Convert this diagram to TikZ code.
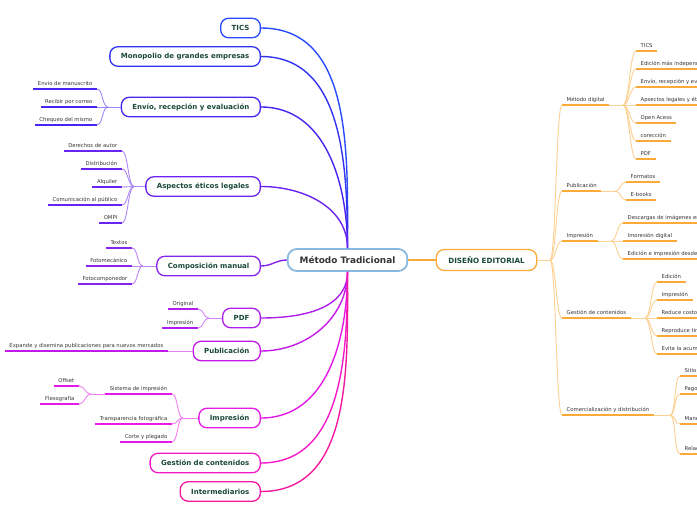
\documentclass[tikz,border=0pt]{standalone}
\usepackage{fontspec}
\setmainfont{DejaVu Sans}
\usetikzlibrary{positioning}

\definecolor{centerBlue}{RGB}{135,185,225}
\definecolor{textGray}{RGB}{51,51,51}
\definecolor{topicGreen}{RGB}{25,72,58}
\definecolor{cTics}{RGB}{40,75,255}
\definecolor{cMono}{RGB}{50,50,245}
\definecolor{cEnvio}{RGB}{75,35,240}
\definecolor{cEtica}{RGB}{105,35,240}
\definecolor{cComp}{RGB}{135,35,235}
\definecolor{cDoc}{RGB}{175,30,235}
\definecolor{cPubl}{RGB}{195,25,230}
\definecolor{cImpr}{RGB}{230,25,230}
\definecolor{cGest}{RGB}{245,25,200}
\definecolor{cInter}{RGB}{245,25,160}
\definecolor{deOrange}{RGB}{250,170,55}

\begin{document}
\begin{tikzpicture}[%
    x=1pt, y=1pt,
    central/.style={%
        draw=centerBlue,
        fill=white,
        line width=1.8pt,
        rounded corners=9pt,
        minimum height=22pt,
        inner xsep=12pt,
        text=textGray,
        font=\fontsize{8.9}{10}\selectfont\bfseries
    },
    topic/.style={%
        draw=#1,
        fill=white,
        line width=1.3pt,
        rounded corners=8pt,
        minimum height=19.5pt,
        inner xsep=11pt,
        anchor=east,
        text=topicGreen,
        font=\fontsize{7}{8}\selectfont\bfseries
    },
    leftLeaf/.style={%
        anchor=south east,
        inner xsep=4.5pt,
        inner ysep=2pt,
        text height=4pt,
        text depth=1.2pt,
        text=textGray,
        font=\fontsize{5.3}{6}\selectfont,
        append after command={(\tikzlastnode.south west) edge[draw=#1, line width=1.6pt] (\tikzlastnode.south east)}
    },
    rightLeaf/.style={%
        leftLeaf=#1,
        anchor=south west
    },
    branch/.style={draw=#1, line width=1.4pt},
    twig/.style={draw=#1!55, line width=0.9pt},
    sCurve/.style={to path={.. controls +(6,0) and +(-6,0) .. (\tikztotarget)}}
]

\useasboundingbox (0,0) rectangle (697,-520);
\clip (0,0) rectangle (697,-520);

% Central topic
    \node[central] (mt) at (347.5,-260) {Método Tradicional};
    \node[topic=deOrange, anchor=center, minimum height=21pt, inner xsep=12pt,
          font=\fontsize{7.2}{8}\selectfont\bfseries] (de) at (486.5,-260) {DISEÑO EDITORIAL};

% Left topics
    \node[topic=cTics] (tics) at (261,-28) {TICS};
    \node[topic=cMono] (mono) at (261,-56.5) {Monopolio de grandes empresas};
    \node[topic=cEnvio] (envio) at (261,-107) {Envío, recepción y evaluación};
    \node[topic=cEtica] (etica) at (261,-186.5) {Aspectos éticos legales};
    \node[topic=cComp] (comp) at (261,-266) {Composición manual};
    \node[topic=cDoc] (doc) at (261,-318) {PDF};
    \node[topic=cPubl] (publ) at (261,-351) {Publicación};
    \node[topic=cImpr] (impr) at (261,-418) {Impresión};
    \node[topic=cGest] (gest) at (261,-463) {Gestión de contenidos};
    \node[topic=cInter] (inter) at (261,-491.5) {Intermediarios};

% Envio leaves
    \node[leftLeaf=cEnvio] (envio1) at (97,-89) {Envio de manuscrito};
    \node[leftLeaf=cEnvio] (envio2) at (97,-107) {Recibir por correo};
    \node[leftLeaf=cEnvio] (envio3) at (97,-125) {Chequeo del mismo};
    \coordinate (envioJ) at (108,-107);

% Etica leaves
    \node[leftLeaf=cEtica] (etica1) at (122,-151) {Derechos de autor};
    \node[leftLeaf=cEtica] (etica2) at (122,-169) {Distribución};
    \node[leftLeaf=cEtica] (etica3) at (122,-187) {Alquiler};
    \node[leftLeaf=cEtica] (etica4) at (122,-205) {Comunicación al público};
    \node[leftLeaf=cEtica] (etica5) at (122,-223) {OMPI};
    \coordinate (eticaJ) at (134,-186.5);

% Composicion leaves
    \node[leftLeaf=cComp] (comp1) at (132,-248) {Textos};
    \node[leftLeaf=cComp] (comp2) at (132,-266) {Fotomecánico};
    \node[leftLeaf=cComp] (comp3) at (132,-284) {Fotocomponedor};
    \coordinate (compJ) at (143,-266);

% PDF leaves
    \node[leftLeaf=cDoc] (doc1) at (198,-309) {Original};
    \node[leftLeaf=cDoc] (doc2) at (198,-328) {Impresión};
    \coordinate (docJ) at (209,-318);

% Publicacion leaf
    \node[leftLeaf=cPubl] (publ1) at (168,-351) {Expande y disemina publicaciones para nuevos mercados};

% Impresion leaves
    \node[leftLeaf=cImpr] (impr1) at (172,-394) {Sistema de impresión};
    \node[leftLeaf=cImpr] (impr2) at (172,-424) {Transparencia fotográfica};
    \node[leftLeaf=cImpr] (impr3) at (172,-442) {Corte y plegado};
    \coordinate (imprJ) at (183,-418);
    \node[leftLeaf=cImpr] (sis1) at (79,-386) {Offset};
    \node[leftLeaf=cImpr] (sis2) at (79,-404) {Flexografía};
    \coordinate (sisJ) at (91,-394);

% Diseno editorial
    \coordinate (deJ) at (550,-260);
    \node[rightLeaf=deOrange] (dig) at (562,-105) {Método digital};
    \node[rightLeaf=deOrange] (pub2) at (562,-191) {Publicación};
    \node[rightLeaf=deOrange] (imp2) at (562,-241) {Impresión};
    \node[rightLeaf=deOrange] (ges2) at (562,-318) {Gestión de contenidos};
    \node[rightLeaf=deOrange] (com2) at (562,-415) {Comercialización y distribución};

% Metodo digital leaves
    \coordinate (digJ) at (623,-105);
    \node[rightLeaf=deOrange] (dig1) at (636,-51) {TICS};
    \node[rightLeaf=deOrange] (dig2) at (636,-69) {Edición más independiente};
    \node[rightLeaf=deOrange] (dig3) at (636,-87) {Envío, recepción y evaluación};
    \node[rightLeaf=deOrange] (dig4) at (636,-105) {Apsectos legales y éticos};
    \node[rightLeaf=deOrange] (dig5) at (636,-123) {Open Acess};
    \node[rightLeaf=deOrange] (dig6) at (636,-141) {corección};
    \node[rightLeaf=deOrange] (dig7) at (636,-159) {PDF};

% Publicacion leaves
    \coordinate (pub2J) at (615,-191);
    \node[rightLeaf=deOrange] (pub21) at (626,-182) {Formatos};
    \node[rightLeaf=deOrange] (pub22) at (626,-200) {E-books};

% Impresion leaves
    \coordinate (imp2J) at (611,-241);
    \node[rightLeaf=deOrange] (imp21) at (623,-223) {Descargas de imágenes en línea};
    \node[rightLeaf=deOrange] (imp22) at (623,-241) {Imoresión digital};
    \node[rightLeaf=deOrange] (imp23) at (623,-259) {Edición e impresión desde casa};

% Gestion leaves
    \coordinate (ges2J) at (645,-318);
    \node[rightLeaf=deOrange] (ges21) at (657,-282) {Edición};
    \node[rightLeaf=deOrange] (ges22) at (657,-300) {Impresión};
    \node[rightLeaf=deOrange] (ges23) at (657,-318) {Reduce costos};
    \node[rightLeaf=deOrange] (ges24) at (657,-336) {Reproduce tirajes};
    \node[rightLeaf=deOrange] (ges25) at (657,-354) {Evita la acumulación};

% Comercializacion leaves
    \coordinate (com2J) at (670,-415);
    \node[rightLeaf=deOrange] (com21) at (680,-376) {Sitio web};
    \node[rightLeaf=deOrange] (com22) at (680,-394) {Pagos};
    \node[rightLeaf=deOrange] (com23) at (680,-424) {Manejo};
    \node[rightLeaf=deOrange] (com24) at (680,-454) {Relaciones};

% Branches
\draw[branch=cTics] (tics.east) to[out=0,in=90] (mt.north);
\draw[branch=cMono] (mono.east) to[out=0,in=90] (mt.north);
\draw[branch=cEnvio] (envio.east) to[out=0,in=90] (mt.north);
\draw[branch=cEtica] (etica.east) to[out=0,in=90] (mt.north);
\draw[branch=cComp] (comp.east) to[out=0,in=180] (mt.west);
\draw[branch=cDoc] (doc.east) to[out=0,in=-90] (mt.south);
\draw[branch=cPubl] (publ.east) to[out=0,in=-90] (mt.south);
\draw[branch=cImpr] (impr.east) to[out=0,in=-90] (mt.south);
\draw[branch=cGest] (gest.east) to[out=0,in=-90] (mt.south);
\draw[branch=cInter] (inter.east) to[out=0,in=-90] (mt.south);
\draw[branch=deOrange] (mt) -- (de);

% Left twigs
\draw[twig=cEnvio] (envio1.south east) to[sCurve] (envioJ);
\draw[twig=cEnvio] (envio2.south east) to[sCurve] (envioJ);
\draw[twig=cEnvio] (envio3.south east) to[sCurve] (envioJ);
\draw[twig=cEnvio] (envioJ) -- (envio);

\draw[twig=cEtica] (etica1.south east) to[sCurve] (eticaJ);
\draw[twig=cEtica] (etica2.south east) to[sCurve] (eticaJ);
\draw[twig=cEtica] (etica3.south east) to[sCurve] (eticaJ);
\draw[twig=cEtica] (etica4.south east) to[sCurve] (eticaJ);
\draw[twig=cEtica] (etica5.south east) to[sCurve] (eticaJ);
\draw[twig=cEtica] (eticaJ) -- (etica);

\draw[twig=cComp] (comp1.south east) to[sCurve] (compJ);
\draw[twig=cComp] (comp2.south east) to[sCurve] (compJ);
\draw[twig=cComp] (comp3.south east) to[sCurve] (compJ);
\draw[twig=cComp] (compJ) -- (comp);

\draw[twig=cDoc] (doc1.south east) to[sCurve] (docJ);
\draw[twig=cDoc] (doc2.south east) to[sCurve] (docJ);
\draw[twig=cDoc] (docJ) -- (doc);

\draw[twig=cPubl] (publ1.south east) -- (publ);

\draw[twig=cImpr] (impr1.south east) to[sCurve] (imprJ);
\draw[twig=cImpr] (impr2.south east) to[sCurve] (imprJ);
\draw[twig=cImpr] (impr3.south east) to[sCurve] (imprJ);
\draw[twig=cImpr] (imprJ) -- (impr);
\draw[twig=cImpr] (sis1.south east) to[sCurve] (sisJ);
\draw[twig=cImpr] (sis2.south east) to[sCurve] (sisJ);
\draw[twig=cImpr] (sisJ) -- (impr1.south west);

% Right twigs
\draw[twig=deOrange] (de) -- (deJ);
\draw[twig=deOrange] (deJ) to[sCurve] (dig.south west);
\draw[twig=deOrange] (deJ) to[sCurve] (pub2.south west);
\draw[twig=deOrange] (deJ) to[sCurve] (imp2.south west);
\draw[twig=deOrange] (deJ) to[sCurve] (ges2.south west);
\draw[twig=deOrange] (deJ) to[sCurve] (com2.south west);

\draw[twig=deOrange] (dig.south east) -- (digJ);
\draw[twig=deOrange] (digJ) to[sCurve] (dig1.south west);
\draw[twig=deOrange] (digJ) to[sCurve] (dig2.south west);
\draw[twig=deOrange] (digJ) to[sCurve] (dig3.south west);
\draw[twig=deOrange] (digJ) to[sCurve] (dig4.south west);
\draw[twig=deOrange] (digJ) to[sCurve] (dig5.south west);
\draw[twig=deOrange] (digJ) to[sCurve] (dig6.south west);
\draw[twig=deOrange] (digJ) to[sCurve] (dig7.south west);

\draw[twig=deOrange] (pub2.south east) -- (pub2J);
\draw[twig=deOrange] (pub2J) to[sCurve] (pub21.south west);
\draw[twig=deOrange] (pub2J) to[sCurve] (pub22.south west);

\draw[twig=deOrange] (imp2.south east) -- (imp2J);
\draw[twig=deOrange] (imp2J) to[sCurve] (imp21.south west);
\draw[twig=deOrange] (imp2J) to[sCurve] (imp22.south west);
\draw[twig=deOrange] (imp2J) to[sCurve] (imp23.south west);

\draw[twig=deOrange] (ges2.south east) -- (ges2J);
\draw[twig=deOrange] (ges2J) to[sCurve] (ges21.south west);
\draw[twig=deOrange] (ges2J) to[sCurve] (ges22.south west);
\draw[twig=deOrange] (ges2J) to[sCurve] (ges23.south west);
\draw[twig=deOrange] (ges2J) to[sCurve] (ges24.south west);
\draw[twig=deOrange] (ges2J) to[sCurve] (ges25.south west);

\draw[twig=deOrange] (com2.south east) -- (com2J);
\draw[twig=deOrange] (com2J) to[sCurve] (com21.south west);
\draw[twig=deOrange] (com2J) to[sCurve] (com22.south west);
\draw[twig=deOrange] (com2J) to[sCurve] (com23.south west);
\draw[twig=deOrange] (com2J) to[sCurve] (com24.south west);

\end{tikzpicture}
\end{document}
